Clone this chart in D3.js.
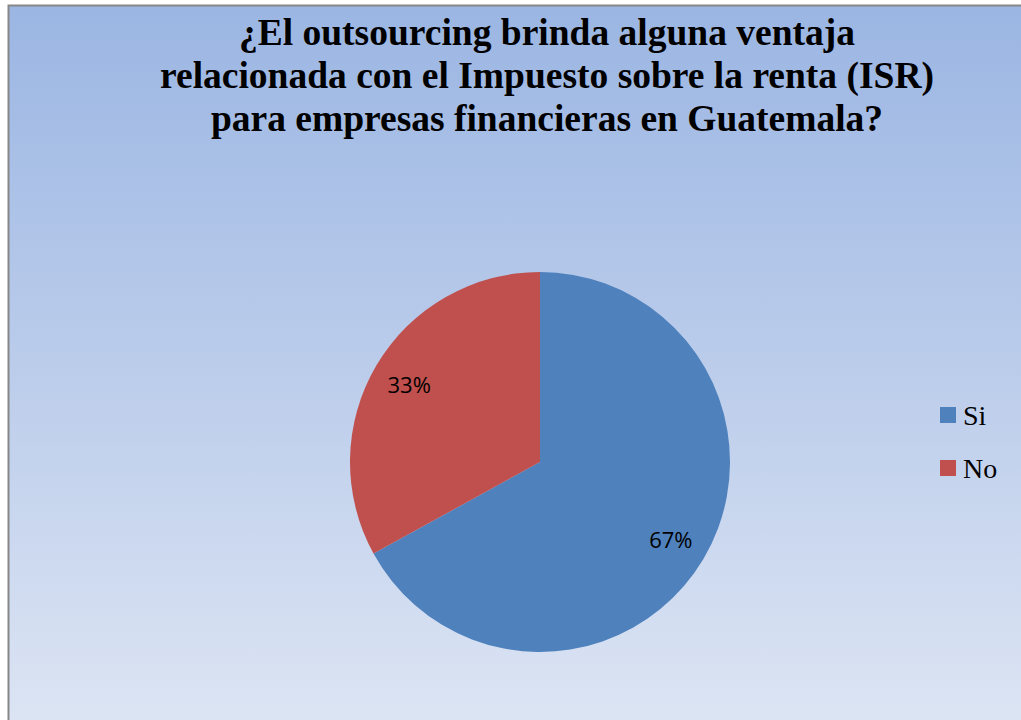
<!DOCTYPE html>
<html>
<head>
<meta charset="utf-8">
<script src="https://cdn.jsdelivr.net/npm/d3@7"></script>
<style>
  body { margin: 0; background: #fff; }
  svg { display: block; }
</style>
</head>
<body>
<svg id="chart" width="1021" height="720"></svg>
<script>
// data
var categories = ['Si', 'No'];
var values = [67, 33];
var colors = ['#4f81bd', '#c0504d'];
var titleLines = ['¿El outsourcing brinda alguna ventaja',
                  'relacionada con el Impuesto sobre la renta (ISR)',
                  'para empresas financieras en Guatemala?'];

// init
var svg = d3.select('#chart');
var width = 1021, height = 720;

// background gradient
var defs = svg.append('defs');
var grad = defs.append('linearGradient')
    .attr('id', 'bg')
    .attr('x1', 0).attr('y1', 0).attr('x2', 0).attr('y2', 1);
grad.append('stop').attr('offset', '0%').attr('stop-color', '#9bb6e3');
grad.append('stop').attr('offset', '50%').attr('stop-color', '#bccdeb');
grad.append('stop').attr('offset', '100%').attr('stop-color', '#dee6f4');

svg.append('rect')
    .attr('x', 8.5).attr('y', 5.5)
    .attr('width', width + 20).attr('height', height + 20)
    .attr('fill', 'url(#bg)')
    .attr('stroke', '#878787')
    .attr('stroke-width', 2);

// title
svg.append('text')
    .attr('text-anchor', 'middle')
    .style('font-family', '"Liberation Serif", "Times New Roman", serif')
    .style('font-weight', 'bold')
    .style('font-size', '37.5px')
    .attr('fill', '#000')
    .selectAll('tspan')
    .data(titleLines).enter()
    .append('tspan')
        .attr('x', 547)
        .attr('y', (d, i) => 45 + i * 43)
        .text(d => d);

// pie
var cx = 540, cy = 462, radius = 190;
var total = d3.sum(values);
var pie = d3.pie().sort(null).value(d => d.value);
var data = categories.map((c, i) => ({ name: c, value: values[i], color: colors[i] }));
var arc = d3.arc().innerRadius(0).outerRadius(radius);
var labelArc = d3.arc().innerRadius(152).outerRadius(152);

var g = svg.append('g').attr('transform', 'translate(' + cx + ',' + cy + ')');
g.selectAll('path')
    .data(pie(data)).enter()
    .append('path')
        .attr('d', arc)
        .attr('fill', d => d.data.color);

g.selectAll('text')
    .data(pie(data)).enter()
    .append('text')
        .attr('transform', d => 'translate(' + labelArc.centroid(d) + ')')
        .attr('text-anchor', 'middle')
        .attr('dy', '0.4em')
        .style('font-family', '"Open Sans", "Liberation Sans", sans-serif')
        .style('font-size', '22px')
        .attr('fill', '#000')
        .text(d => Math.round(d.data.value / total * 100) + '%');

// legend
var legend = svg.append('g').attr('transform', 'translate(940,407)');
var item = legend.selectAll('g')
    .data(data).enter()
    .append('g')
        .attr('transform', (d, i) => 'translate(0,' + (i * 53) + ')');
item.append('rect')
    .attr('width', 16).attr('height', 16)
    .attr('fill', d => d.color);
item.append('text')
    .attr('x', 23)
    .attr('y', 18)
    .style('font-family', '"Liberation Serif", "Times New Roman", serif')
    .style('font-size', '28px')
    .attr('fill', '#000')
    .text(d => d.name);
</script>
</body>
</html>
